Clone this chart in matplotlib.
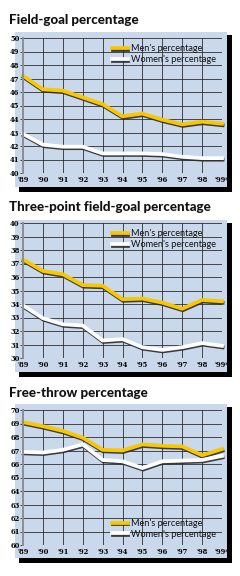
"""
Men's vs women's shooting percentages, 1989-99 (three stacked panels)
"""

import matplotlib
matplotlib.use("Agg")
import matplotlib.pyplot as plt
import matplotlib.patheffects as pe
from matplotlib.patches import Rectangle

# Data
years = [1989, 1990, 1991, 1992, 1993, 1994, 1995, 1996, 1997, 1998, 1999]
year_labels = ["'89", "'90", "'91", "'92", "'93", "'94", "'95", "'96", "'97", "'98", "'99*"]

fg_title = "Field-goal percentage"
fg_men = [47.2, 46.2, 46.1, 45.6, 45.1, 44.2, 44.4, 43.95, 43.6, 43.8, 43.65]
fg_women = [42.9, 42.1, 41.95, 41.95, 41.45, 41.45, 41.45, 41.4, 41.2, 41.1, 41.1]

tp_title = "Three-point field-goal percentage"
tp_men = [37.3, 36.45, 36.2, 35.4, 35.35, 34.35, 34.4, 34.1, 33.65, 34.3, 34.2]
tp_women = [33.9, 32.95, 32.5, 32.4, 31.3, 31.4, 30.8, 30.6, 30.8, 31.1, 30.9]

ft_title = "Free-throw percentage"
ft_men = [69.1, 68.8, 68.45, 67.95, 67.05, 67.0, 67.45, 67.35, 67.3, 66.65, 67.1]
ft_women = [66.9, 66.85, 67.05, 67.45, 66.3, 66.2, 65.7, 66.2, 66.25, 66.3, 66.6]

series_labels = ["Men's percentage", "Women's percentage"]

# Style
W, H = 240, 576
BG = "#c9d8eb"
YELLOW = "#f8c700"
GRID = "#2e2e2e"

fig = plt.figure(figsize=(W / 100, H / 100), dpi=100)
fig.patch.set_facecolor("white")


def fig_rect(l, t, r, b, color, z):
    rect = Rectangle((l / W, 1 - b / H), (r - l) / W, (b - t) / H,
                     transform=fig.transFigure, facecolor=color,
                     edgecolor="none", zorder=z)
    fig.patches.append(rect)


def panel(title, men, women, ylim, box, axbox, title_y, legend_loc):
    l, t, r, b = box
    fig_rect(l + 4, t + 3, r + 5, b + 5, "black", 0)
    fig_rect(l, t, r, b, BG, 1)
    fig.text(9 / W, 1 - title_y / H, title, fontsize=9.6, fontweight="black",
             family="Lato", va="center", ha="left", color="#111")

    al, at, ar, ab = axbox
    ax = fig.add_axes([al / W, 1 - ab / H, (ar - al) / W, (ab - at) / H])
    ax.set_zorder(2)
    ax.patch.set_alpha(0)
    ax.set_xlim(years[0], years[-1])
    ax.set_ylim(*ylim)
    ax.set_xticks(years)
    ax.set_xticklabels(year_labels)
    ax.set_yticks(range(ylim[0], ylim[1] + 1))
    ax.grid(True, color=GRID, lw=0.6)
    for s in ax.spines.values():
        s.set_visible(False)
    ax.spines["left"].set_visible(True)
    ax.spines["left"].set_color("#8a8f99")
    ax.spines["left"].set_linewidth(1.4)
    ax.tick_params(axis="y", length=2, width=0.6, color=GRID, pad=0.5,
                   labelsize=5.4)
    ax.tick_params(axis="x", length=0, pad=2.5, labelsize=5.4)
    for lab in ax.get_xticklabels() + ax.get_yticklabels():
        lab.set_family("DejaVu Serif")
        lab.set_fontweight("bold")
        lab.set_fontstretch("condensed")

    shadow = [pe.SimpleLineShadow(offset=(0.4, -1.1), shadow_color="#2a2a2a",
                                  alpha=0.9), pe.Normal()]
    ax.plot(years, men, color=YELLOW, lw=2.7, solid_joinstyle="miter",
            path_effects=shadow, label=series_labels[0], clip_on=False)
    ax.plot(years, women, color="white", lw=2.7, solid_joinstyle="miter",
            path_effects=shadow, label=series_labels[1], clip_on=False)

    leg = ax.legend(loc=legend_loc, frameon=False, handlelength=1.7,
                    handletextpad=0.3, labelspacing=0.2, borderaxespad=0.3,
                    prop={"family": "Lato", "size": 6.6})
    for txt in leg.get_texts():
        txt.set_color("#111")
    return ax


panel(fg_title, fg_men, fg_women, (40, 50), (15, 32, 227, 187),
      (23, 38, 222, 173), 20, "upper right")
panel(tp_title, tp_men, tp_women, (30, 40), (15, 220, 227, 372),
      (23, 223, 222, 358), 207, "upper right")
panel(ft_title, ft_men, ft_women, (60, 70), (15, 404, 227, 558),
      (23, 410, 222, 545), 393, "lower right")

plt.savefig("out.png", dpi=100)
